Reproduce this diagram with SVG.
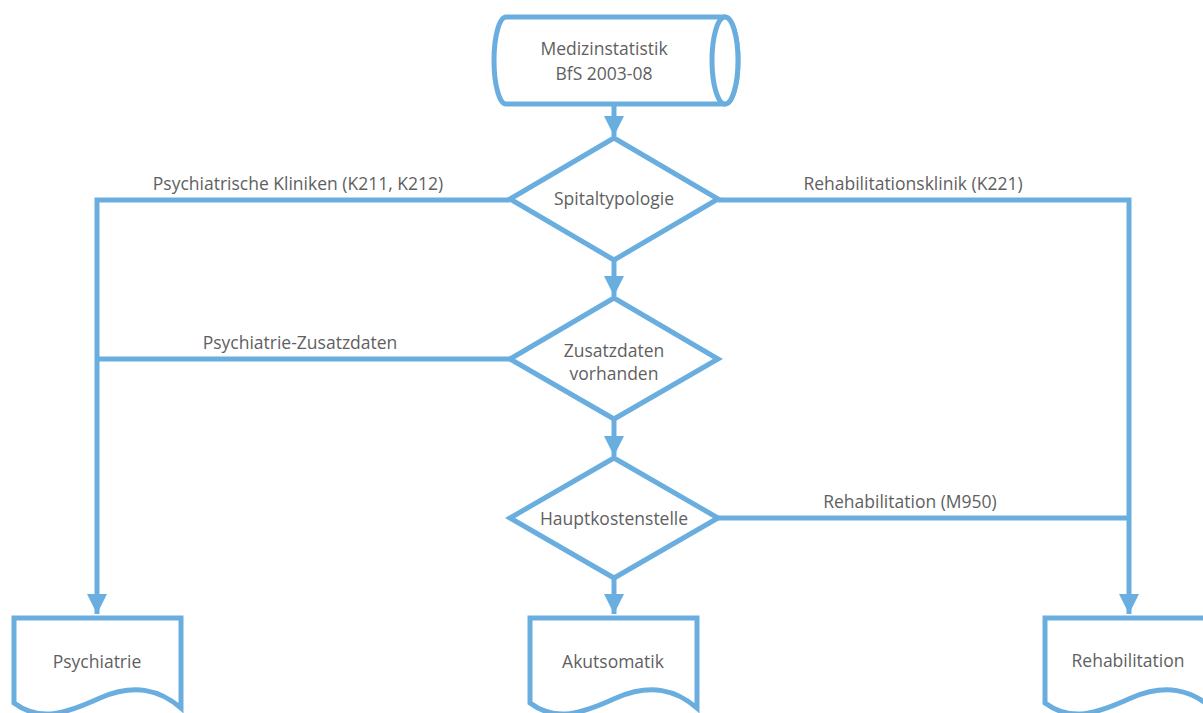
<svg xmlns="http://www.w3.org/2000/svg" width="1203" height="713" viewBox="0 0 1203 713">
<style>
.s{fill:#fff;stroke:#6aaee0;stroke-width:5;stroke-linejoin:miter}
.c{fill:none;stroke:#6aaee0;stroke-width:5}
.t{font-family:"Open Sans","Liberation Sans",Arial,sans-serif;font-size:17.5px;fill:#5f5f5f;text-anchor:middle}
</style>
<defs>
<marker id="a" markerUnits="userSpaceOnUse" markerWidth="22" markerHeight="20" refX="20" refY="10" orient="auto">
<path d="M0,0 L20,10 L0,20 Z" fill="#6aaee0"/>
</marker>
</defs>
<g id="connectors">
<line class="c" x1="614" y1="104" x2="614" y2="136" marker-end="url(#a)"/>
<line class="c" x1="614" y1="260" x2="614" y2="296" marker-end="url(#a)"/>
<line class="c" x1="614" y1="419" x2="614" y2="456" marker-end="url(#a)"/>
<line class="c" x1="614" y1="578" x2="614" y2="614" marker-end="url(#a)"/>
<polyline class="c" points="510,200 97,200 97,614" marker-end="url(#a)"/>
<polyline class="c" points="510,359 97,359"/>
<polyline class="c" points="718,200 1129,200 1129,614" marker-end="url(#a)"/>
<polyline class="c" points="718,518 1129,518"/>
<text class="t" x="298" y="190">Psychiatrische Kliniken (K211, K212)</text>
<text class="t" x="913" y="190">Rehabilitationsklinik (K221)</text>
<text class="t" x="300" y="349">Psychiatrie-Zusatzdaten</text>
<text class="t" x="910" y="508">Rehabilitation (M950)</text>
</g>
<g id="medizinstatistik">
<path class="s" d="M506,17 H725 A13,43.5 0 0 1 725,104 H506 A12,43.5 0 0 1 506,17 Z"/>
<ellipse class="s" cx="725" cy="60.5" rx="13" ry="43.5"/>
<text class="t" x="604" y="55">Medizinstatistik</text>
<text class="t" x="604" y="80">BfS 2003-08</text>
</g>
<g id="spitaltypologie">
<polygon class="s" points="614,138 718,199 614,260 510,199"/>
<text class="t" x="614" y="205">Spitaltypologie</text>
</g>
<g id="zusatzdaten">
<polygon class="s" points="614,298 718,359 614,419 510,359"/>
<text class="t" x="614" y="357">Zusatzdaten</text>
<text class="t" x="614" y="380">vorhanden</text>
</g>
<g id="hauptkostenstelle">
<polygon class="s" points="614,458 718,518 614,578 510,518"/>
<text class="t" x="614" y="525">Hauptkostenstelle</text>
</g>
<g id="psychiatrie">
<path class="s" d="M14,618 H181 V708 C160,690 135,683 100,698 C65,714 40,722 14,703 Z"/>
<text class="t" x="97" y="668">Psychiatrie</text>
</g>
<g id="akutsomatik">
<path class="s" d="M530,618 H697 V708 C676,690 651,683 616,698 C581,714 556,722 530,703 Z"/>
<text class="t" x="613" y="668">Akutsomatik</text>
</g>
<g id="rehabilitation">
<path class="s" d="M1045,618 H1212 V708 C1191,690 1166,683 1131,698 C1096,714 1071,722 1045,703 Z"/>
<text class="t" x="1128" y="667">Rehabilitation</text>
</g>
</svg>
